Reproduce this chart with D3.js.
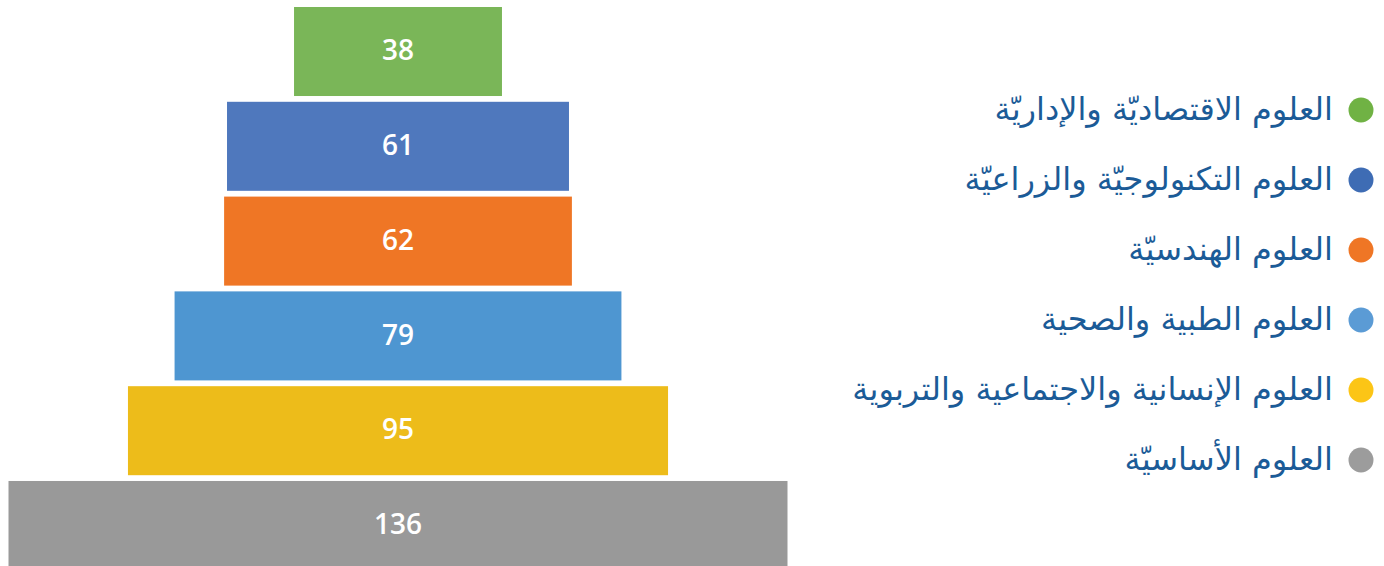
<!DOCTYPE html>
<html><head><meta charset="utf-8">
<script src="https://cdn.jsdelivr.net/npm/d3@7/dist/d3.min.js"></script>
<style>body{margin:0;background:#fff;overflow:hidden}</style>
</head><body>
<svg id="c" width="1384" height="566"></svg>
<script>
const categories = ["العلوم الاقتصاديّة والإداريّة","العلوم التكنولوجيّة والزراعيّة","العلوم الهندسيّة","العلوم الطبية والصحية","العلوم الإنسانية والاجتماعية والتربوية","العلوم الأساسيّة"];
const values = [38, 61, 62, 79, 95, 136];
const barColors = ["#7ab658","#4f78bd","#ef7625","#4e96d1","#edbc1a","#999999"];
const dotColors = ["#70b244","#3e6cb4","#ef7625","#5b9bd5","#fcc516","#9c9c9c"];

const svg = d3.select("#c");
const cx = 398;
const y = d3.scaleBand().domain(d3.range(values.length)).range([7, 570]).paddingInner(0.061).paddingOuter(0);
const w = d3.scaleLinear().domain([0, 136]).range([-13.5, 779]);

const g = svg.append("g");
g.selectAll("rect").data(values).join("rect")
  .attr("x", d => cx - w(d)/2).attr("width", d => w(d))
  .attr("y", (d,i) => y(i)).attr("height", y.bandwidth())
  .attr("fill", (d,i) => barColors[i]);
g.selectAll("text").data(values).join("text")
  .attr("x", cx).attr("y", (d,i) => y(i) + y.bandwidth()/2 - 1)
  .attr("dy", "0.35em").attr("text-anchor", "middle")
  .attr("fill", "#fff").attr("font-family", "'Open Sans', sans-serif")
  .attr("font-weight", 600).attr("font-size", 28)
  .text(d => d);

const ly = d3.scalePoint().domain(d3.range(categories.length)).range([110, 460]);
const lg = svg.append("g");
lg.selectAll("circle").data(categories).join("circle")
  .attr("cx", 1361).attr("cy", (d,i) => ly(i)).attr("r", 12.5)
  .attr("fill", (d,i) => dotColors[i]);
lg.selectAll("text").data(categories).join("text")
  .attr("x", 1333).attr("y", (d,i) => ly(i)).attr("dy", "0.3em")
  .attr("text-anchor", "end").attr("fill", "#1b5b97")
  .attr("font-family", "'DejaVu Sans',sans-serif")
  .attr("font-size", 32)
  .text(d => d);
</script>
</body></html>
